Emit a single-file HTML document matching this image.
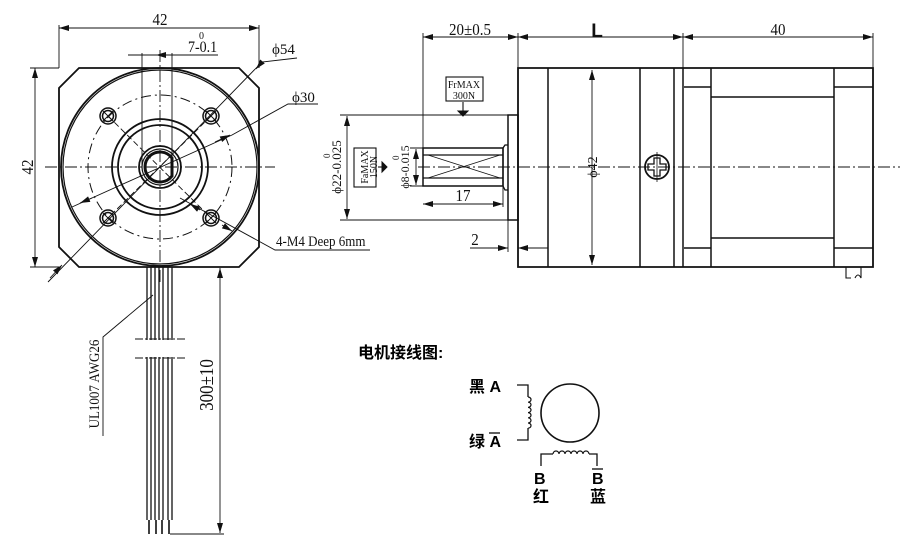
<!DOCTYPE html>
<html><head><meta charset="utf-8"><style>
html,body{margin:0;padding:0;background:#fff;}
svg{display:block}
.t{font-family:"Liberation Serif",serif;fill:#111}
.c{font-family:"Liberation Sans","Noto Sans CJK SC",sans-serif;fill:#000}
</style></head><body>
<svg width="900" height="559" viewBox="0 0 900 559" xmlns="http://www.w3.org/2000/svg">
<defs>
<marker id="a" viewBox="0 0 10 6" refX="10" refY="3" markerWidth="11" markerHeight="6" orient="auto-start-reverse" markerUnits="userSpaceOnUse"><path d="M0,0 L10,3 L0,6 z" fill="#111"/></marker>
</defs>
<g stroke="#111" fill="none" stroke-width="1">
<!-- LEFT VIEW -->
<path d="M79,68 H239 L259,88 V247 L239,267 H79 L59,247 V88 Z" stroke-width="1.8"/>
<circle cx="160" cy="167" r="99" stroke-width="1.8"/>
<circle cx="160" cy="167" r="97" stroke-width="1.2"/>
<circle cx="160" cy="167" r="72" stroke-dasharray="10,4,2,4"/>
<circle cx="160" cy="167" r="48" stroke-width="1.8"/>
<circle cx="160" cy="167" r="42" stroke-width="1.8"/>
<circle cx="160" cy="167" r="21" stroke-width="1.8"/>
<circle cx="160" cy="167" r="18" stroke-width="1.2"/>
<path d="M172,158 A15,15 0 1 0 172,176 Z" stroke-width="3"/>
<g stroke-width="1.5">
<circle cx="108" cy="116" r="8"/><circle cx="108" cy="116" r="5.5"/>
<circle cx="211" cy="116" r="8"/><circle cx="211" cy="116" r="5.5"/>
<circle cx="108" cy="218" r="8"/><circle cx="108" cy="218" r="5.5"/>
<circle cx="211" cy="218" r="8"/><circle cx="211" cy="218" r="5.5"/>
</g>
<g stroke-width="0.9">
<path d="M103,111 L113,121 M113,111 L103,121 M206,111 L216,121 M216,111 L206,121 M103,213 L113,223 M113,213 L103,223 M206,213 L216,223 M216,213 L206,223"/>
<path d="M108,116 L211,218 M211,116 L108,218" stroke-dasharray="6,3"/>
</g>
<path d="M45,167 H275 M160,50 V282" stroke-width="0.9" stroke-dasharray="12,3,2,3"/>
<path d="M142,53 V167 M172,53 V167" stroke-width="0.9"/>
<path d="M59,25 V68 M259,25 V68" stroke-width="0.9"/>
<path d="M59,28 H259" stroke-width="0.9" marker-start="url(#a)" marker-end="url(#a)"/>
<path d="M30,68 H59 M30,267 H59" stroke-width="0.9"/>
<path d="M35,68 V267" stroke-width="0.9" marker-start="url(#a)" marker-end="url(#a)"/>
<path d="M142,55 H158 M172,55 H156" stroke-width="0.9" marker-end="url(#a)"/>
<path d="M142,55 H128 M172,55 H218" stroke-width="0.9"/>
<path d="M48,282 L262,62 L297,58" stroke-width="0.9"/>
<path d="M262,62 L256,69" stroke-width="0.9" marker-end="url(#a)"/>
<path d="M50,278 L62,265" stroke-width="0.9" marker-end="url(#a)"/>
<path d="M72,207 L232,135 L288,104 H318" stroke-width="0.9"/>
<path d="M92,198 L80,203" stroke-width="0.9" marker-end="url(#a)"/>
<path d="M215,142 L230,135" stroke-width="0.9" marker-end="url(#a)"/>
<path d="M180,198 L275,250 H370" stroke-width="0.9"/>
<path d="M200,210 L190,204" stroke-width="0.9" marker-end="url(#a)"/>
<path d="M222,225 L232,231" stroke-width="0.9" marker-end="url(#a)"/>
<path d="M147,267 V520 M151,267 V520 M155,267 V520 M159,267 V520 M163,267 V520 M168,267 V520 M172,267 V520" stroke-width="1.3"/>
<path d="M149,520 V534 M156,520 V534 M162,520 V534 M169,520 V534" stroke-width="1.6"/>
<rect x="132" y="340" width="60" height="17" fill="#fff" stroke="none"/>
<path d="M135,339 H187 M135,358 H187" stroke-width="0.9" stroke-dasharray="8,2,2,2"/>
<path d="M170,534 H224 M215,267 H224" stroke-width="0.9"/>
<path d="M220,268 V533" stroke-width="0.9" marker-start="url(#a)" marker-end="url(#a)"/>
<path d="M153,295 L103,337 V436" stroke-width="0.9"/>
<!-- RIGHT VIEW -->
<path d="M518,68 H873 V267 H518 Z" stroke-width="1.8"/>
<path d="M548,68 V267 M640,68 V267 M674,68 V267 M683,68 V267 M711,68 V267 M834,68 V267" stroke-width="1.5"/>
<path d="M684,87 H711 M834,87 H873 M711,97 H834 M711,238 H834 M684,248 H711 M834,248 H873" stroke-width="1.5"/>
<path d="M846,267 V278 H851 M855,278 Q858,272 861,278 V267" stroke-width="1.1"/>
<rect x="508" y="115" width="10" height="105" stroke-width="1.5"/>
<path d="M508,145 H505 L503,148 V186 L505,190 H508" stroke-width="1.3"/>
<rect x="423" y="148" width="80" height="38" stroke-width="1.5"/>
<path d="M423,155 H503 M423,178 H503" stroke-width="1.3"/>
<path d="M428,155 L500,178 M428,178 L500,155" stroke-width="0.8"/>
<path d="M418,167 H900" stroke-width="0.9" stroke-dasharray="12,3,2,3"/>
<circle cx="657" cy="167" r="12" stroke-width="1.8"/>
<path d="M654,158 H660 V164 H666 V170 H660 V176 H654 V170 H648 V164 H654 Z" stroke-width="1.3"/>
<path d="M657,152 V182" stroke-width="0.8"/>
<path d="M592,70 V265" stroke-width="0.9" marker-start="url(#a)" marker-end="url(#a)"/>
<path d="M423,33 V148 M518,33 V68 M683,33 V68 M873,33 V68" stroke-width="0.9"/>
<path d="M423,37 H518" stroke-width="0.9" marker-start="url(#a)" marker-end="url(#a)"/>
<path d="M518,37 H683" stroke-width="0.9" marker-start="url(#a)" marker-end="url(#a)"/>
<path d="M683,37 H873" stroke-width="0.9" marker-start="url(#a)" marker-end="url(#a)"/>
<path d="M340,115 H508 M340,220 H508" stroke-width="0.9"/>
<path d="M347,116 V219" stroke-width="0.9" marker-start="url(#a)" marker-end="url(#a)"/>
<path d="M410,148 H423 M410,186 H423" stroke-width="0.9"/>
<path d="M416,149 V185" stroke-width="0.9" marker-start="url(#a)" marker-end="url(#a)"/>
<path d="M503,186 V207" stroke-width="0.9"/>
<path d="M423,204 H503" stroke-width="0.9" marker-start="url(#a)" marker-end="url(#a)"/>
<path d="M508,220 V252 M470,248 H508 M518,248 H548" stroke-width="0.9"/>
<path d="M490,248 H508" stroke-width="0.9" marker-end="url(#a)"/>
<path d="M536,248 H518" stroke-width="0.9" marker-end="url(#a)"/>
<rect x="446" y="77" width="37" height="24" stroke-width="1.1"/>
<path d="M463,102 V112" stroke-width="1.1"/>
<path d="M458,111 H468 L463,116 Z" fill="#111"/>
<rect x="354" y="148" width="22" height="39" stroke-width="1.1"/>
<path d="M378,167 H383" stroke-width="1.1"/>
<path d="M382,162 V172 L387,167 Z" fill="#111"/>
<!-- wiring diagram -->
<circle cx="570" cy="413" r="29" stroke-width="1.6"/>
<path d="M517,385 H528 V397 M528,428 V440 H517" stroke-width="1.3"/>
<path d="M528,397 a3,2.6 0 0 1 0,5.2 a3,2.6 0 0 1 0,5.2 a3,2.6 0 0 1 0,5.2 a3,2.6 0 0 1 0,5.2 a3,2.6 0 0 1 0,5.2 a3,2.6 0 0 1 0,5.2" stroke-width="1.2"/>
<path d="M541,466 V454 H553 M589,454 H597 V466" stroke-width="1.3"/>
<path d="M553,454 a3,3 0 0 1 6,0 a3,3 0 0 1 6,0 a3,3 0 0 1 6,0 a3,3 0 0 1 6,0 a3,3 0 0 1 6,0 a3,3 0 0 1 6,0" stroke-width="1.2"/>
</g>
<g class="t" font-size="15">
<text transform="translate(160,25) scale(1,1.15)" text-anchor="middle">42</text>
<text transform="translate(188,52) scale(1,1.15)" font-size="14">7-0.1</text>
<text x="199" y="39" font-size="10">0</text>
<text x="272" y="54">ϕ54</text>
<text x="292" y="102">ϕ30</text>
<text transform="translate(276,246) scale(1,1.15)" font-size="13">4-M4 Deep 6mm</text>
<text transform="translate(33,167) rotate(-90) scale(1,1.15)" text-anchor="middle">42</text>
<text transform="translate(213,385) rotate(-90) scale(1,1.15)" text-anchor="middle" font-size="17">300±10</text>
<text transform="translate(99,384) rotate(-90) scale(1,1.15)" text-anchor="middle" font-size="13">UL1007  AWG26</text>
<text transform="translate(470,35) scale(1,1.15)" text-anchor="middle">20±0.5</text>
<text x="597" y="37" text-anchor="middle" font-family="Liberation Sans" font-weight="bold" font-size="19">L</text>
<text transform="translate(778,35) scale(1,1.15)" text-anchor="middle">40</text>
<text transform="translate(463,201) scale(1,1.15)" text-anchor="middle">17</text>
<text transform="translate(475,245) scale(1,1.15)" text-anchor="middle">2</text>
<text transform="translate(597,167) rotate(-90)" text-anchor="middle" font-size="14">ϕ42</text>
<text transform="translate(341,167) rotate(-90)" text-anchor="middle" font-size="13">ϕ22-0.025</text>
<text transform="translate(330,158) rotate(-90)" font-size="9">0</text>
<text transform="translate(409,167) rotate(-90)" text-anchor="middle" font-size="12">ϕ8-0.015</text>
<text transform="translate(399,160) rotate(-90)" font-size="9">0</text>
<text x="464" y="88" text-anchor="middle" font-size="10">FrMAX</text>
<text x="464" y="99" text-anchor="middle" font-size="10">300N</text>
<text transform="translate(368,167) rotate(-90)" text-anchor="middle" font-size="10">FaMAX</text>
<text transform="translate(377,167) rotate(-90)" text-anchor="middle" font-size="10">150N</text>
</g>
<g class="c" font-size="16" font-weight="bold">
<text x="358" y="358">电机接线图:</text>
<text x="469" y="392">黑 A</text>
<text x="469" y="447">绿 A</text>
<text x="534" y="484">B</text>
<text x="592" y="484">B</text>
<text x="533" y="502">红</text>
<text x="590" y="502">蓝</text>
</g>
<path d="M489,433 H500 M592,469 H603" stroke="#000" stroke-width="1.2"/>
</svg>
</body></html>
